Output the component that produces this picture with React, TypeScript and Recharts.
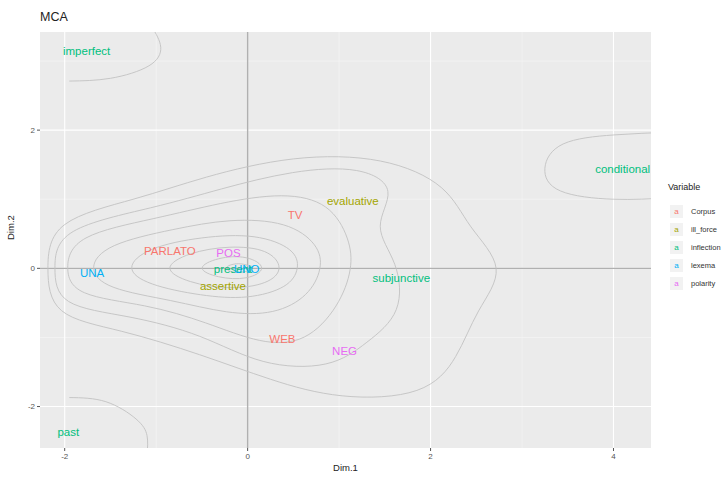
import {
  CartesianGrid,
  ComposedChart,
  Line,
  ReferenceLine,
  Scatter,
  XAxis,
  YAxis,
} from "recharts"

const variables = ["Corpus", "ill_force", "inflection", "lexema", "polarity"]
const variableColors = ["#F8766D", "#A3A500", "#00BF7D", "#00B0F6", "#E76BF3"]

// MCA category coordinates
const categoryLabels = [
  "PARLATO", "TV", "WEB",
  "evaluative", "assertive",
  "imperfect", "conditional", "subjunctive", "present", "past",
  "UNA", "UNO",
  "POS", "NEG",
]
const categoryVariable = [
  "Corpus", "Corpus", "Corpus",
  "ill_force", "ill_force",
  "inflection", "inflection", "inflection", "inflection", "inflection",
  "lexema", "lexema",
  "polarity", "polarity",
]
const dim1 = [-0.85, 0.52, 0.38, 1.15, -0.27, -1.76, 4.1, 1.68, -0.16, -1.96, -1.7, -0.01, -0.21, 1.06]
const dim2 = [0.25, 0.78, -1.02, 0.97, -0.25, 3.14, 1.44, -0.14, -0.01, -2.36, -0.06, -0.01, 0.22, -1.19]

// density contours, [dim1, dim2]
const ring1 = [[-2.2, 0], [-2.15, 0.7], [-1.2, 1.0], [-0.5, 1.32], [0.5, 1.64], [1.5, 1.62], [2.2, 1.2], [2.4, 0.6], [2.85, 0], [2.5, -0.6], [2.3, -1.3], [1.95, -1.85], [1.0, -1.9], [0.25, -1.62], [-0.5, -1.25], [-1.4, -0.88], [-2.15, -0.7]]
const ring2 = [[-2.12, 0], [-2.08, 0.58], [-1.0, 0.88], [-0.3, 1.15], [0.5, 1.42], [1.25, 1.48], [1.65, 1.15], [1.35, 0.6], [1.65, 0.1], [1.7, -0.65], [1.3, -1.08], [0.92, -1.45], [0.15, -1.42], [-0.5, -0.95], [-1.3, -0.68], [-2.08, -0.55]]
const ring3 = [[-2.0, 0], [-1.9, 0.48], [-1.0, 0.72], [-0.3, 0.95], [0.4, 1.1], [0.9, 0.95], [1.12, 0.42], [1.15, 0], [1.0, -0.55], [0.64, -1.08], [0.15, -1.1], [-0.45, -0.78], [-1.1, -0.52], [-1.9, -0.4]]
const ring4 = [[-1.75, 0], [-1.55, 0.35], [-0.8, 0.57], [-0.2, 0.72], [0.44, 0.68], [0.78, 0.34], [0.82, 0], [0.67, -0.4], [0.3, -0.67], [-0.22, -0.66], [-0.82, -0.46], [-1.55, -0.3]]
const ring5 = [[-1.35, 0], [-1.1, 0.3], [-0.5, 0.46], [0.1, 0.5], [0.52, 0.28], [0.57, 0], [0.45, -0.28], [0.0, -0.45], [-0.5, -0.4], [-1.1, -0.24]]
const ring6 = [[-0.95, 0], [-0.65, 0.23], [-0.2, 0.33], [0.23, 0.28], [0.4, 0], [0.23, -0.23], [-0.2, -0.31], [-0.65, -0.21]]
const ring7 = [[-0.58, 0], [-0.33, 0.16], [0.0, 0.19], [0.23, 0], [0.0, -0.17], [-0.33, -0.14]]
const ring8 = [[-0.3, 0], [-0.1, 0.1], [0.1, 0], [-0.1, -0.09]]
const arcImperfect = [[-1.95, 2.71], [-1.5, 2.75], [-1.08, 2.93], [-0.95, 3.2], [-1.05, 3.5]]
const arcPast = [[-1.95, -1.87], [-1.55, -1.93], [-1.22, -2.18], [-1.1, -2.42], [-1.1, -2.7]]
const arcConditional = [[4.6, 1.97], [4.0, 1.93], [3.45, 1.8], [3.25, 1.45], [3.42, 1.12], [4.0, 1.0], [4.6, 1.02]]

const closedContours = [ring1, ring2, ring3, ring4, ring5, ring6, ring7, ring8]
const openContours = [arcImperfect, arcPast, arcConditional]

const xTicks = [-2, 0, 2, 4]
const yTicks = [-2, 0, 2]
const xMinor = [-1, 1, 3]
const yMinor = [-1, 1, 3]

const font = "'Liberation Sans', Arial, sans-serif"

const toPoints = (c: number[][]) => c.map(([x, y]) => ({ x, y }))

const points = categoryLabels.map((label, i) => ({
  label,
  variable: categoryVariable[i],
  x: dim1[i],
  y: dim2[i],
}))

const makeLabel = (color: string) => (props: any) => (
  <text
    x={props.cx}
    y={props.cy}
    dy="0.36em"
    textAnchor="middle"
    fontSize={11.5}
    fontFamily={font}
    fill={color}
  >
    {props.payload.label}
  </text>
)

export default function App() {
  return (
    <div
      style={{
        position: "fixed",
        left: 0,
        top: 0,
        width: 727,
        height: 479,
        background: "#fff",
        fontFamily: font,
      }}
    >
      <div style={{ position: "absolute", left: 40, top: 10, fontSize: 12.5, color: "#222" }}>
        MCA
      </div>

      <ComposedChart
        width={727}
        height={479}
        margin={{ top: 32, right: 76, bottom: 0, left: 0 }}
      >
        <CartesianGrid
          fill="#EBEBEB"
          stroke="#F7F7F7"
          strokeWidth={0.6}
          verticalValues={xMinor}
          horizontalValues={yMinor}
        />
        <CartesianGrid
          stroke="#FFFFFF"
          strokeWidth={1.1}
          verticalValues={xTicks}
          horizontalValues={yTicks}
        />
        <XAxis
          type="number"
          dataKey="x"
          domain={[-2.27, 4.41]}
          allowDataOverflow
          ticks={xTicks}
          height={31}
          tickSize={3}
          tickMargin={2}
          axisLine={false}
          tickLine={{ stroke: "#555" }}
          tick={{ fontSize: 8, fill: "#555", fontFamily: font }}
          label={{ value: "Dim.1", position: "insideBottom", offset: 8, fontSize: 9.5, fill: "#222", fontFamily: font }}
        />
        <YAxis
          type="number"
          dataKey="y"
          domain={[-2.6, 3.42]}
          allowDataOverflow
          ticks={yTicks}
          width={40}
          tickSize={3}
          tickMargin={2}
          axisLine={false}
          tickLine={{ stroke: "#555" }}
          tick={{ fontSize: 8, fill: "#555", fontFamily: font }}
          label={{ value: "Dim.2", angle: -90, position: "insideLeft", offset: 11, fontSize: 9.5, fill: "#222", fontFamily: font }}
        />
        <ReferenceLine x={0} stroke="#B0B0B0" strokeWidth={1.4} />
        <ReferenceLine y={0} stroke="#B0B0B0" strokeWidth={1.4} />

        {closedContours.map((c, i) => (
          <Line
            key={"c" + i}
            data={toPoints(c)}
            dataKey="y"
            type="basisClosed"
            stroke="#C2C2C2"
            strokeWidth={0.9}
            dot={false}
            activeDot={false}
            isAnimationActive={false}
          />
        ))}
        {openContours.map((c, i) => (
          <Line
            key={"o" + i}
            data={toPoints(c)}
            dataKey="y"
            type="natural"
            stroke="#C2C2C2"
            strokeWidth={0.9}
            dot={false}
            activeDot={false}
            isAnimationActive={false}
          />
        ))}

        {variables.map((v, i) => (
          <Scatter
            key={v}
            data={points.filter((p) => p.variable === v)}
            dataKey="y"
            shape={makeLabel(variableColors[i])}
            isAnimationActive={false}
          />
        ))}
      </ComposedChart>

      <div style={{ position: "absolute", left: 668, top: 182, fontSize: 9, color: "#222", whiteSpace: "nowrap" }}>
        <div style={{ marginBottom: 10 }}>Variable</div>
        {variables.map((v, i) => (
          <div key={v} style={{ display: "flex", alignItems: "center", height: 18 }}>
            <div
              style={{
                width: 13,
                height: 13,
                marginLeft: 2,
                background: "#F2F2F2",
                color: variableColors[i],
                fontSize: 8,
                lineHeight: "13px",
                textAlign: "center",
                marginRight: 8,
              }}
            >
              a
            </div>
            <span style={{ fontSize: 7.5, color: "#333" }}>{v}</span>
          </div>
        ))}
      </div>
    </div>
  )
}
